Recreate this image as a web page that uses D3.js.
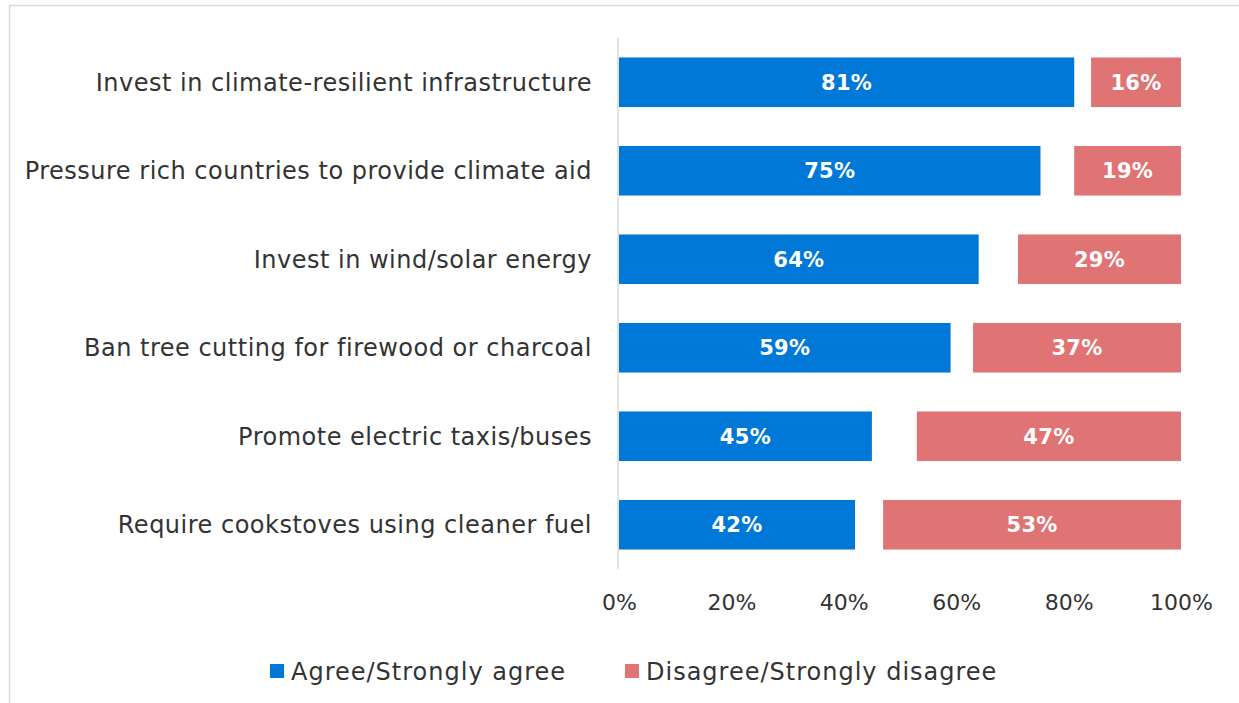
<!DOCTYPE html>
<html><head><meta charset="utf-8">
<script src="https://cdn.jsdelivr.net/npm/d3@7"></script>
<style>
html,body{margin:0;padding:0;background:#fff;}
svg{display:block;}
text{font-family:"DejaVu Sans",sans-serif;}
</style></head>
<body>
<svg id="chart" width="1239" height="703"></svg>
<script>
const categories = [
  "Invest in climate-resilient infrastructure",
  "Pressure rich countries to provide climate aid",
  "Invest in wind/solar energy",
  "Ban tree cutting for firewood or charcoal",
  "Promote electric taxis/buses",
  "Require cookstoves using cleaner fuel"
];
const agree = [81, 75, 64, 59, 45, 42];
const disagree = [16, 19, 29, 37, 47, 53];
const seriesNames = ["Agree/Strongly agree", "Disagree/Strongly disagree"];
const tickValues = [0, 20, 40, 60, 80, 100];

const colors = ["#0078D7", "#E07373"];
const svg = d3.select("#chart");

// frame
svg.append("rect").attr("x", 9.5).attr("y", 5.5).attr("width", 1260).attr("height", 720)
  .attr("fill", "none").attr("stroke", "#D9D9D9").attr("stroke-width", 1.5);

const x = d3.scaleLinear().domain([0, 100]).range([619, 1181]);
const y = d3.scaleBand().domain(categories).range([38, 569]).paddingInner(0.44).paddingOuter(0.22);

// axis line
svg.append("line").attr("x1", 618).attr("x2", 618).attr("y1", 38).attr("y2", 569)
  .attr("stroke", "#D9D9D9").attr("stroke-width", 1.5);

const data = categories.map((c, i) => ({c, a: agree[i], d: disagree[i]}));

svg.selectAll(".ag").data(data).join("rect")
  .attr("x", x(0)).attr("y", d => y(d.c)).attr("width", d => x(d.a) - x(0)).attr("height", y.bandwidth())
  .attr("fill", colors[0]);
svg.selectAll(".dg").data(data).join("rect")
  .attr("x", d => x(100 - d.d)).attr("y", d => y(d.c)).attr("width", d => x(100) - x(100 - d.d)).attr("height", y.bandwidth())
  .attr("fill", colors[1]);

const lblStyle = s => s.attr("dy", "0.36em").attr("text-anchor", "middle").attr("fill", "#fff")
  .attr("font-weight", "bold").attr("font-size", 21).attr("letter-spacing", 0.3);
svg.selectAll(".al").data(data).join("text")
  .attr("x", d => (x(0) + x(d.a)) / 2).attr("y", d => y(d.c) + y.bandwidth() / 2)
  .call(lblStyle).text(d => d.a + "%");
svg.selectAll(".dl").data(data).join("text")
  .attr("x", d => (x(100 - d.d) + x(100)) / 2).attr("y", d => y(d.c) + y.bandwidth() / 2)
  .call(lblStyle).text(d => d.d + "%");

// category labels
svg.selectAll(".cl").data(categories).join("text")
  .attr("x", 592).attr("y", d => y(d) + y.bandwidth() / 2).attr("dy", "0.36em")
  .attr("text-anchor", "end").attr("fill", "#333").attr("font-size", 24).attr("letter-spacing", 0.5)
  .text(d => d);

// x axis tick labels
const xAxis = d3.axisBottom(x).tickValues(tickValues).tickFormat(d => d + "%").tickSize(0).tickPadding(0);
const gx = svg.append("g").attr("transform", "translate(0,594)").call(xAxis);
gx.select(".domain").remove();
gx.selectAll("text").attr("font-size", 22).attr("fill", "#333").attr("font-family", '"DejaVu Sans",sans-serif');

// legend
const legX = [270, 625];
seriesNames.forEach((n, i) => {
  svg.append("rect").attr("x", legX[i]).attr("y", 664).attr("width", 14).attr("height", 14).attr("fill", colors[i]);
  svg.append("text").attr("x", legX[i] + 21).attr("y", 671).attr("dy", "0.36em")
    .attr("font-size", 24).attr("letter-spacing", 1).attr("fill", "#333").text(n);
});
</script>
</body></html>
